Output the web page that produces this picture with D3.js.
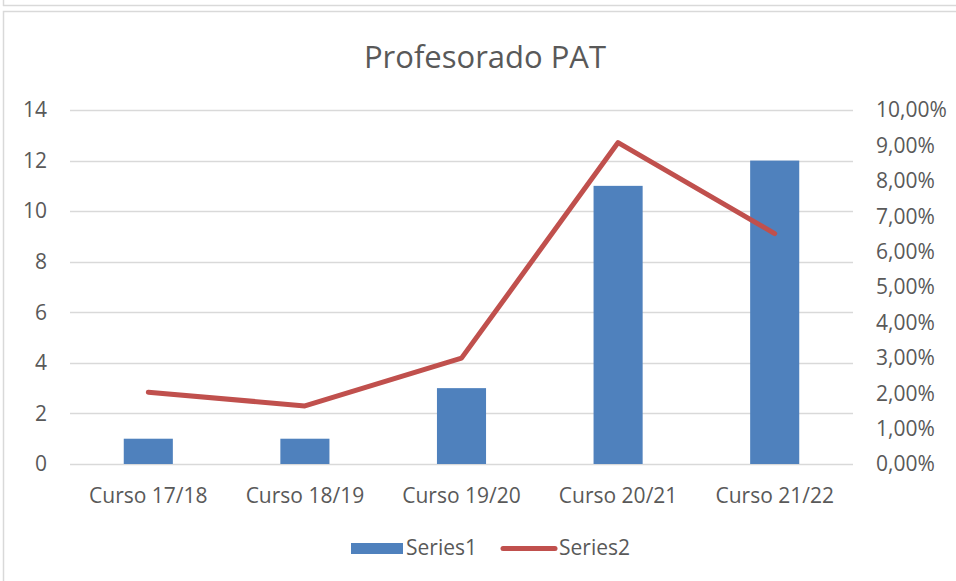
<!DOCTYPE html>
<html>
<head>
<meta charset="utf-8">
<title>Profesorado PAT</title>
<script src="https://cdn.jsdelivr.net/npm/d3@7"></script>
<style>
  body { margin: 0; background: #fff; }
  svg text { font-family: "Open Sans", sans-serif; fill: #595959; }
</style>
</head>
<body>
<div id="chart"></div>
<script>
// data
var cursos = ["Curso 17/18", "Curso 18/19", "Curso 19/20", "Curso 20/21", "Curso 21/22"];
var series1 = [1, 1, 3, 11, 12];
var series2 = [0.0203, 0.0164, 0.0299, 0.0908, 0.0651];
var leftTicks = [0, 2, 4, 6, 8, 10, 12, 14];
var rightTicks = [0, 0.01, 0.02, 0.03, 0.04, 0.05, 0.06, 0.07, 0.08, 0.09, 0.10];

var W = 956, H = 581;
var plot = { left: 70, right: 853, top: 110, bottom: 464 };

var svg = d3.select("#chart").append("svg")
  .attr("width", W)
  .attr("height", H);

// frame lines (bottom of previous chart + this chart's border)
svg.append("line").attr("x1", 3).attr("x2", W).attr("y1", 5.5).attr("y2", 5.5)
  .attr("stroke", "#d9d9d9").attr("stroke-width", 1.5);
svg.append("line").attr("x1", 3.5).attr("x2", 3.5).attr("y1", 0).attr("y2", 6)
  .attr("stroke", "#d9d9d9").attr("stroke-width", 1.5);
svg.append("rect").attr("x", 3.5).attr("y", 11.5).attr("width", W + 10).attr("height", H)
  .attr("fill", "none").attr("stroke", "#d9d9d9").attr("stroke-width", 1.5);

var x = d3.scaleBand().domain(cursos).range([plot.left, plot.right]).paddingInner(0).paddingOuter(0);
var yL = d3.scaleLinear().domain([0, 14]).range([plot.bottom, plot.top]);
var yR = d3.scaleLinear().domain([0, 0.10]).range([plot.bottom, plot.top]);

var pct = function(v) { return d3.format(".2f")(v * 100).replace(".", ",") + "%"; };

// gridlines
svg.append("g").selectAll("line").data(leftTicks).enter().append("line")
  .attr("x1", plot.left).attr("x2", plot.right)
  .attr("y1", function(d) { return Math.round(yL(d)) + 0.5; })
  .attr("y2", function(d) { return Math.round(yL(d)) + 0.5; })
  .attr("stroke", "#d9d9d9").attr("stroke-width", 1.5);

// left axis labels
svg.append("g").selectAll("text").data(leftTicks).enter().append("text")
  .attr("x", 47).attr("y", function(d) { return yL(d); })
  .attr("dy", "0.35em")
  .attr("text-anchor", "end")
  .style("font-size", "21px")
  .text(function(d) { return d; });

// right axis labels
svg.append("g").selectAll("text").data(rightTicks).enter().append("text")
  .attr("x", 876).attr("y", function(d) { return yR(d); })
  .attr("dy", "0.35em")
  .style("font-size", "21px")
  .text(pct);

// category labels
svg.append("g").selectAll("text").data(cursos).enter().append("text")
  .attr("x", function(d) { return x(d) + x.bandwidth() / 2; })
  .attr("y", 496).attr("dy", "0.35em")
  .attr("text-anchor", "middle")
  .style("font-size", "21px")
  .text(function(d) { return d; });

// bars
var barW = x.bandwidth() / 3.19;
svg.append("g").selectAll("rect").data(series1).enter().append("rect")
  .attr("x", function(d, i) { return x(cursos[i]) + x.bandwidth() / 2 - barW / 2; })
  .attr("y", function(d) { return yL(d); })
  .attr("width", barW)
  .attr("height", function(d) { return yL(0) - yL(d); })
  .attr("fill", "#4f81bd");

// line
var line = d3.line()
  .x(function(d, i) { return x(cursos[i]) + x.bandwidth() / 2; })
  .y(function(d) { return yR(d); });
svg.append("path").datum(series2)
  .attr("d", line)
  .attr("fill", "none")
  .attr("stroke", "#c0504d")
  .attr("stroke-width", 5)
  .attr("stroke-linecap", "round")
  .attr("stroke-linejoin", "round");

// title
svg.append("text")
  .attr("x", 485).attr("y", 57).attr("dy", "0.35em")
  .attr("text-anchor", "middle")
  .style("font-size", "31px")
  .text("Profesorado PAT");

// legend
var leg = svg.append("g");
leg.append("rect").attr("x", 351).attr("y", 543).attr("width", 52).attr("height", 11).attr("fill", "#4f81bd");
leg.append("text").attr("x", 406).attr("y", 548).attr("dy", "0.35em").style("font-size", "21px").text("Series1");
leg.append("line").attr("x1", 503).attr("x2", 555).attr("y1", 548.5).attr("y2", 548.5)
  .attr("stroke", "#c0504d").attr("stroke-width", 5).attr("stroke-linecap", "round");
leg.append("text").attr("x", 559).attr("y", 548).attr("dy", "0.35em").style("font-size", "21px").text("Series2");
</script>
</body>
</html>
